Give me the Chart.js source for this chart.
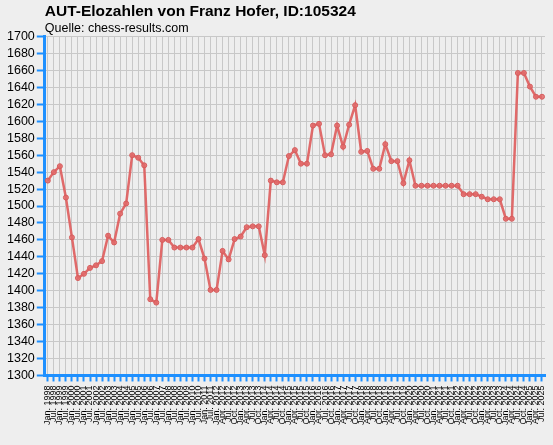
<!DOCTYPE html>
<html>
<head>
<meta charset="utf-8">
<script src="https://cdn.jsdelivr.net/npm/chart.js@4"></script>
<style>
  html, body { margin: 0; padding: 0; background: #EEEEEE; }
  canvas { display: block; }
</style>
</head>
<body>
<canvas id="c" width="553" height="445"></canvas>
<script>
const titleText = "AUT-Elozahlen von Franz Hofer, ID:105324";
const subtitleText = "Quelle: chess-results.com";

const categories = [
  "Jan. 1998","Jul. 1998","Jan. 1999","Jul. 1999","Jan. 2000","Jul. 2000",
  "Jan. 2001","Jul. 2001","Jan. 2002","Jul. 2002","Jan. 2003","Jul. 2003",
  "Jan. 2004","Jul. 2004","Jan. 2005","Jul. 2005","Jan. 2006","Jul. 2006",
  "Jan. 2007","Jul. 2007","Jan. 2008","Jul. 2008","Jan. 2009","Jul. 2009",
  "Jan. 2010","Jul. 2010","Jan. 2011","Jul. 2011","Jan. 2012",
  "Apr. 2012","Jul. 2012","Oct. 2012",
  "Jan. 2013","Apr. 2013","Jul. 2013","Oct. 2013",
  "Jan. 2014","Apr. 2014","Jul. 2014","Oct. 2014",
  "Jan. 2015","Apr. 2015","Jul. 2015","Oct. 2015",
  "Jan. 2016","Apr. 2016","Jul. 2016","Oct. 2016",
  "Jan. 2017","Apr. 2017","Jul. 2017","Oct. 2017",
  "Jan. 2018","Apr. 2018","Jul. 2018","Oct. 2018",
  "Jan. 2019","Apr. 2019","Jul. 2019","Oct. 2019",
  "Jan. 2020","Apr. 2020","Jul. 2020","Oct. 2020",
  "Jan. 2021","Apr. 2021","Jul. 2021","Oct. 2021",
  "Jan. 2022","Apr. 2022","Jul. 2022","Oct. 2022",
  "Jan. 2023","Apr. 2023","Jul. 2023","Oct. 2023",
  "Jan. 2024","Apr. 2024","Jul. 2024","Oct. 2024",
  "Jan. 2025","Apr. 2025","Jul. 2025"
];

const elo = [
  1530,1540,1547,1510,1463,1415,1420,1427,1430,1435,
  1465,1457,1491,1503,1560,1557,1548,1390,1386,1460,
  1460,1451,1451,1451,1451,1461,1438,1401,1401,1447,
  1437,1461,1464,1475,1476,1476,1442,1530,1528,1528,
  1559,1566,1550,1550,1595,1597,1560,1561,1595,1570,
  1596,1619,1564,1565,1544,1544,1573,1553,1553,1527,
  1554,1524,1524,1524,1524,1524,1524,1524,1524,1514,
  1514,1514,1511,1508,1508,1508,1485,1485,1657,1657,
  1641,1629,1629
];

const yMin = 1300, yMax = 1700, yStep = 20;

const blue = '#1E90FF';
const gridGray = '#C8C8C8';
const lineRed = 'rgba(222,98,98,0.95)';
const fontFam = "'Liberation Sans', Arial, sans-serif";

new Chart(document.getElementById('c'), {
  type: 'line',
  data: {
    labels: categories,
    datasets: [{
      data: elo,
      borderColor: lineRed,
      backgroundColor: 'rgba(226,106,106,0.85)',
      borderWidth: 2.5,
      pointRadius: 2.5,
      pointBorderWidth: 1,
      pointBorderColor: 'rgba(214,92,92,1)',
      tension: 0,
      fill: false
    }]
  },
  options: {
    responsive: false,
    animation: false,
    devicePixelRatio: 1,
    layout: { padding: { left: 5, right: 8, top: 0, bottom: 16 } },
    plugins: {
      legend: { display: false },
      tooltip: { enabled: false },
      title: {
        display: true,
        text: titleText,
        align: 'start',
        fullSize: false,
        color: '#000',
        font: { family: fontFam, size: 15.5, weight: 'bold' },
        padding: { top: 2, bottom: 0 }
      },
      subtitle: {
        display: true,
        text: subtitleText,
        align: 'start',
        fullSize: false,
        color: '#000',
        font: { family: fontFam, size: 12.5 },
        padding: { top: 0, bottom: 1 }
      }
    },
    scales: {
      x: {
        type: 'category',
        offset: true,
        afterFit: (scale) => { scale.paddingRight = 0; },
        grid: {
          color: gridGray,
          lineWidth: 1,
          offset: false,
          drawTicks: true,
          tickColor: blue,
          tickLength: 6,
          tickWidth: 2
        },
        border: { color: blue, width: 3 },
        ticks: {
          autoSkip: false,
          maxRotation: 90,
          minRotation: 90,
          color: '#000',
          padding: 4,
          font: { family: fontFam, size: 9 }
        }
      },
      y: {
        min: yMin,
        max: yMax,
        grid: {
          color: gridGray,
          lineWidth: 1,
          tickColor: blue,
          tickLength: 8,
          tickWidth: 2
        },
        border: { color: blue, width: 3 },
        ticks: {
          stepSize: yStep,
          autoSkip: false,
          color: '#000',
          padding: 2,
          font: { family: fontFam, size: 12.5 },
          callback: (v) => String(v)
        }
      }
    }
  }
});
</script>
</body>
</html>
